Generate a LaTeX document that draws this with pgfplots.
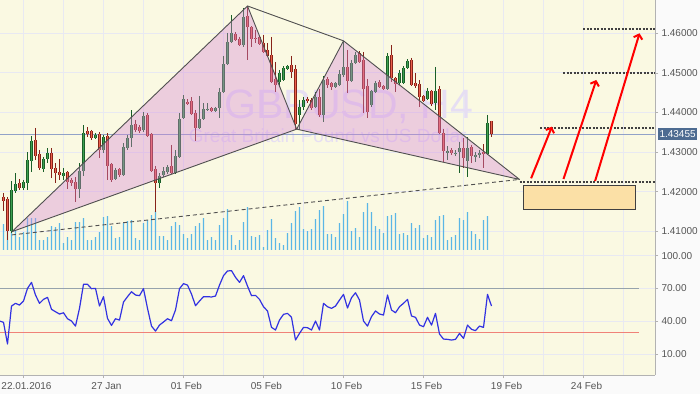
\documentclass[border=0pt]{standalone}
\usepackage{pgfplots}
\pgfplotsset{compat=1.18}
\usepackage{pgfplotstable}
\usetikzlibrary{arrows.meta}
\usepackage{fontspec}
\setmainfont{Liberation Sans}
\definecolor{pagebg}{RGB}{250,250,250}
\definecolor{bgcream}{RGB}{250,249,226}
\definecolor{gridcol}{RGB}{232,233,242}
\definecolor{labgray}{RGB}{85,85,85}
\definecolor{framegray}{RGB}{178,178,178}
\definecolor{bullfill}{RGB}{60,160,80}
\definecolor{bullline}{RGB}{25,95,40}
\definecolor{bearfill}{RGB}{236,96,76}
\definecolor{bearline}{RGB}{135,35,25}
\definecolor{volblue}{RGB}{90,182,230}
\definecolor{pinkfill}{RGB}{215,135,215}
\definecolor{patline}{RGB}{80,80,80}
\definecolor{pricebox}{RGB}{77,107,145}
\definecolor{priceline}{RGB}{145,162,200}
\definecolor{rsiblue}{RGB}{50,50,225}
\definecolor{lvlhi}{RGB}{150,163,172}
\definecolor{lvllo}{RGB}{240,130,120}
\definecolor{wmark}{RGB}{230,222,243}
\definecolor{boxfill}{RGB}{251,224,166}

\pgfplotstableread{
n o h l c
0 1.4187 1.4197 1.4151 1.4177
1 1.4182 1.4187 1.4078 1.4101
2 1.4101 1.4227 1.4096 1.4204
3 1.4202 1.4247 1.4197 1.4219
4 1.4222 1.4232 1.4204 1.4209
5 1.4209 1.4230 1.4204 1.4224
6 1.4222 1.4300 1.4204 1.4280
7 1.4278 1.4341 1.4250 1.4328
8 1.4331 1.4361 1.4280 1.4290
9 1.4295 1.4305 1.4255 1.4260
10 1.4257 1.4288 1.4250 1.4283
11 1.4283 1.4310 1.4272 1.4298
12 1.4298 1.4310 1.4235 1.4257
13 1.4260 1.4272 1.4222 1.4247
14 1.4250 1.4283 1.4230 1.4242
15 1.4240 1.4260 1.4230 1.4247
16 1.4250 1.4252 1.4207 1.4224
17 1.4230 1.4235 1.4214 1.4222
18 1.4224 1.4237 1.4174 1.4207
19 1.4207 1.4272 1.4184 1.4252
20 1.4252 1.4368 1.4240 1.4348
21 1.4353 1.4363 1.4338 1.4346
22 1.4353 1.4356 1.4331 1.4336
23 1.4336 1.4348 1.4333 1.4343
24 1.4346 1.4351 1.4285 1.4305
25 1.4305 1.4343 1.4298 1.4338
26 1.4341 1.4348 1.4230 1.4265
27 1.4270 1.4272 1.4225 1.4230
28 1.4232 1.4260 1.4230 1.4255
29 1.4257 1.4260 1.4237 1.4242
30 1.4242 1.4323 1.4240 1.4313
31 1.4310 1.4343 1.4305 1.4336
32 1.4336 1.4406 1.4313 1.4368
33 1.4371 1.4381 1.4351 1.4356
34 1.4363 1.4368 1.4348 1.4353
35 1.4356 1.4401 1.4351 1.4391
36 1.4394 1.4399 1.4338 1.4341
37 1.4346 1.4348 1.4250 1.4252
38 1.4257 1.4265 1.4149 1.4222
39 1.4222 1.4247 1.4209 1.4240
40 1.4242 1.4262 1.4237 1.4252
41 1.4250 1.4267 1.4245 1.4262
42 1.4265 1.4318 1.4245 1.4247
43 1.4247 1.4305 1.4245 1.4290
44 1.4288 1.4399 1.4285 1.4384
45 1.4386 1.4444 1.4384 1.4434
46 1.4427 1.4434 1.4419 1.4421
47 1.4429 1.4439 1.4394 1.4396
48 1.4399 1.4406 1.4328 1.4361
49 1.4361 1.4442 1.4358 1.4384
50 1.4384 1.4424 1.4381 1.4409
51 1.4406 1.4424 1.4404 1.4409
52 1.4411 1.4414 1.4401 1.4404
53 1.4404 1.4414 1.4401 1.4411
54 1.4411 1.4462 1.4386 1.4452
55 1.4452 1.4543 1.4449 1.4522
56 1.4522 1.4601 1.4520 1.4578
57 1.4578 1.4646 1.4576 1.4601
58 1.4598 1.4603 1.4581 1.4583
59 1.4586 1.4591 1.4568 1.4570
60 1.4570 1.4664 1.4565 1.4641
61 1.4644 1.4669 1.4533 1.4616
62 1.4616 1.4618 1.4565 1.4586
63 1.4588 1.4608 1.4576 1.4586
64 1.4591 1.4593 1.4570 1.4573
65 1.4576 1.4596 1.4550 1.4553
66 1.4558 1.4576 1.4540 1.4543
67 1.4545 1.4591 1.4474 1.4477
68 1.4485 1.4528 1.4452 1.4469
69 1.4477 1.4507 1.4464 1.4500
70 1.4482 1.4517 1.4480 1.4512
71 1.4510 1.4520 1.4507 1.4517
72 1.4520 1.4543 1.4487 1.4502
73 1.4510 1.4520 1.4358 1.4371
74 1.4394 1.4432 1.4356 1.4414
75 1.4414 1.4439 1.4406 1.4432
76 1.4434 1.4439 1.4424 1.4429
77 1.4432 1.4437 1.4406 1.4411
78 1.4414 1.4452 1.4411 1.4439
79 1.4439 1.4459 1.4389 1.4394
80 1.4394 1.4492 1.4376 1.4482
81 1.4485 1.4490 1.4462 1.4469
82 1.4474 1.4477 1.4457 1.4464
83 1.4464 1.4477 1.4462 1.4474
84 1.4469 1.4507 1.4467 1.4497
85 1.4495 1.4581 1.4490 1.4515
86 1.4515 1.4558 1.4449 1.4480
87 1.4480 1.4533 1.4477 1.4525
88 1.4525 1.4553 1.4522 1.4545
89 1.4550 1.4555 1.4525 1.4528
90 1.4533 1.4553 1.4399 1.4459
91 1.4467 1.4485 1.4386 1.4401
92 1.4419 1.4457 1.4414 1.4454
93 1.4452 1.4480 1.4449 1.4474
94 1.4477 1.4482 1.4462 1.4464
95 1.4467 1.4469 1.4457 1.4459
96 1.4459 1.4550 1.4457 1.4543
97 1.4545 1.4570 1.4477 1.4487
98 1.4487 1.4490 1.4452 1.4472
99 1.4474 1.4507 1.4469 1.4500
100 1.4474 1.4517 1.4472 1.4512
101 1.4512 1.4535 1.4510 1.4530
102 1.4533 1.4538 1.4467 1.4469
103 1.4474 1.4500 1.4462 1.4467
104 1.4472 1.4482 1.4414 1.4439
105 1.4442 1.4444 1.4427 1.4429
106 1.4434 1.4462 1.4432 1.4454
107 1.4454 1.4457 1.4416 1.4421
108 1.4424 1.4515 1.4406 1.4454
109 1.4459 1.4467 1.4346 1.4348
110 1.4348 1.4358 1.4275 1.4303
111 1.4298 1.4315 1.4280 1.4303
112 1.4305 1.4310 1.4293 1.4298
113 1.4295 1.4305 1.4290 1.4298
114 1.4300 1.4326 1.4247 1.4310
115 1.4310 1.4336 1.4260 1.4285
116 1.4278 1.4338 1.4237 1.4310
117 1.4313 1.4318 1.4272 1.4290
118 1.4288 1.4300 1.4275 1.4293
119 1.4293 1.4305 1.4285 1.4298
120 1.4300 1.4320 1.4260 1.4295
121 1.4295 1.4394 1.4293 1.4373
122 1.4379 1.4379 1.4338 1.43455
}\candles

\pgfplotstableread{
n v
0 2600
1 2300
2 1800
3 2000
4 1300
5 1800
6 3200
7 3200
8 3200
9 1000
10 1000
11 1300
12 2400
13 2300
14 2700
15 700
16 1300
17 1000
18 2800
19 2800
20 3200
21 1000
22 1000
23 1300
24 1800
25 3300
26 3400
27 2400
28 1200
29 1300
30 2700
31 2900
32 3000
33 1200
34 1000
35 2700
36 3000
37 3500
38 3900
39 1400
40 1400
41 1000
42 2400
43 2800
44 2500
45 1600
46 1200
47 1600
48 2400
49 2700
50 3200
51 1000
52 1300
53 1000
54 2500
55 3200
56 4100
57 1500
58 500
59 1000
60 2800
61 4300
62 1400
63 1300
64 1500
65 300
66 2000
67 3100
68 1200
69 700
70 500
71 1700
72 2700
73 3900
74 4300
75 2100
76 1900
77 2100
78 3100
79 4000
80 4400
81 1600
82 1600
83 1300
84 2700
85 3600
86 4900
87 1900
88 2200
89 1300
90 3800
91 4700
92 3800
93 2400
94 2100
95 1700
96 3400
97 3500
98 3700
99 1600
100 1700
101 1500
102 2700
103 2200
104 2500
105 1200
106 1500
107 1300
108 3000
109 3400
110 3500
111 1000
112 1300
113 1500
114 3200
115 3000
116 3800
117 1900
118 1600
119 1100
120 3000
121 3400
}\volume

\pgfplotstableread{
n r
-1 40.2
0 39.0
1 19.2
2 53.9
3 56.4
4 54.8
5 58.5
6 70.1
7 75.6
8 64.0
9 56.4
10 60.0
11 61.9
12 50.9
13 48.7
14 46.6
15 47.8
16 42.3
17 40.2
18 35.6
19 51.8
20 73.8
21 73.8
22 69.8
23 70.1
24 53.9
25 62.5
26 42.6
27 36.2
28 42.3
29 41.1
30 57.6
31 62.5
32 67.0
33 64.0
34 63.4
35 69.8
36 51.8
37 35.6
38 31.0
39 36.5
40 39.3
41 42.3
42 40.5
43 50.3
44 69.8
45 74.4
46 73.1
47 64.9
48 54.2
49 58.5
50 62.5
51 62.5
52 62.2
53 63.1
54 73.1
55 81.7
56 86.0
57 86.3
58 80.2
59 75.6
60 81.7
61 72.2
62 63.4
63 63.7
64 60.0
65 53.3
66 49.4
67 34.4
68 32.0
69 41.1
70 46.3
71 47.2
72 43.6
73 22.8
74 28.9
75 34.4
76 34.1
77 32.0
78 40.2
79 32.0
80 56.4
81 53.3
82 51.8
83 53.9
84 59.4
85 64.6
86 52.1
87 61.5
88 66.1
89 59.4
90 40.2
91 35.6
92 44.2
93 49.4
94 46.6
95 45.7
96 64.0
97 50.3
98 47.8
99 53.3
100 56.4
101 60.0
102 44.8
103 43.6
104 36.5
105 35.0
106 43.6
107 36.5
108 47.2
109 28.3
110 23.7
111 23.4
112 22.8
113 23.4
114 28.9
115 24.3
116 36.5
117 32.6
118 31.4
119 35.6
120 34.4
121 64.6
122 53.9
}\rsi

\pgfplotsset{chartx/.style={scale only axis, width=655pt, xmin=-0.875, xmax=162.875},
  candle/.style n args={2}{draw=none, mark=none, forget plot,
    error bars/.cd, y dir=minus, y explicit, error mark=none,
    error bar style={draw=#1, line width=#2}}}

\begin{document}
\begin{tikzpicture}
\fill[pagebg] (0pt,0pt) rectangle (700pt,-394pt);
\path[use as bounding box] (0pt,0pt) rectangle (700pt,-394pt);

% ---- price panel background, grid, watermark
\begin{axis}[chartx, height=250pt, at={(0pt,0pt)}, anchor=north west,
  ymin=1.40528, ymax=1.46841,
  axis background/.style={fill=bgcream},
  xtick={5,15,...,155}, ytick={1.41,1.42,1.43,1.44,1.45,1.46},
  xticklabels={}, yticklabels={}, major tick length=0pt,
  grid=major, grid style={gridcol, line width=1pt},
  axis line style={draw=none}]
\node[font=\fontsize{41}{45}\selectfont, text=wmark, anchor=base] at (axis cs:86.3,1.43861) {GBPUSD, H4};
\node[font=\fontsize{19}{22}\selectfont, text=wmark, anchor=base] at (axis cs:81.05,1.43255) {Great Britain Pound vs US Dollar};
\draw[priceline, line width=1pt] (axis cs:-0.875,1.43455) -- (axis cs:162.875,1.43455);
\end{axis}

% ---- volume
\begin{axis}[chartx, height=250pt, at={(0pt,0pt)}, anchor=north west,
  ymin=0, ymax=25000, hide axis]
\addplot[ybar, bar width=1.25pt, fill=volblue, draw=none, bar shift=0pt] table[x=n, y=v] {\volume};
\end{axis}

% ---- candles and pattern
\begin{axis}[chartx, height=250pt, at={(0pt,0pt)}, anchor=north west,
  ymin=1.40528, ymax=1.46841, clip=false,
  axis x line*=bottom, axis y line*=right,
  axis line style={framegray, line width=1pt},
  xtick=\empty,
  ytick={1.41,1.42,1.43,1.44,1.45,1.46},
  yticklabels={1.41000,1.42000,1.43000,1.44000,1.45000,1.46000},
  tick align=outside, major tick length=3pt,
  tick style={framegray, line width=0.8pt},
  yticklabel style={font=\fontsize{10}{12}\selectfont, text=labgray, anchor=west}]
% wicks
\addplot[restrict expr to domain={\thisrow{c}-\thisrow{o}}{0:1}, candle={bullline}{1pt}]
  table[x=n, y=h, y error minus expr=\thisrow{h}-\thisrow{l}] {\candles};
\addplot[restrict expr to domain={\thisrow{c}-\thisrow{o}}{-1:-0.000001}, candle={bearline}{1pt}]
  table[x=n, y=h, y error minus expr=\thisrow{h}-\thisrow{l}] {\candles};
% bodies outline
\addplot[restrict expr to domain={\thisrow{c}-\thisrow{o}}{0:1}, candle={bullline}{3.4pt}]
  table[x=n, y=c, y error minus expr=\thisrow{c}-\thisrow{o}] {\candles};
\addplot[restrict expr to domain={\thisrow{c}-\thisrow{o}}{-1:-0.000001}, candle={bearline}{3.4pt}]
  table[x=n, y=o, y error minus expr=\thisrow{o}-\thisrow{c}] {\candles};
% bodies fill
\addplot[restrict expr to domain={\thisrow{c}-\thisrow{o}}{0:1}, candle={bullfill}{1.8pt}]
  table[x=n, y=c, y error minus expr=\thisrow{c}-\thisrow{o}] {\candles};
\addplot[restrict expr to domain={\thisrow{c}-\thisrow{o}}{-1:-0.000001}, candle={bearfill}{1.8pt}]
  table[x=n, y=o, y error minus expr=\thisrow{o}-\thisrow{c}] {\candles};
% harmonic pattern
\fill[pinkfill, opacity=0.38] (axis cs:2.1,1.4099) -- (axis cs:61,1.4669) -- (axis cs:73.3,1.4358) -- cycle;
\fill[pinkfill, opacity=0.38] (axis cs:73.3,1.4358) -- (axis cs:85,1.4581) -- (axis cs:129,1.4231) -- cycle;
\draw[patline, line width=0.9pt, line join=round] (axis cs:2.1,1.4099) -- (axis cs:61,1.4669) -- (axis cs:73.3,1.4358) -- cycle;
\draw[patline, line width=0.9pt, line join=round] (axis cs:73.3,1.4358) -- (axis cs:85,1.4581) -- (axis cs:129,1.4231) -- cycle;
\draw[patline, line width=0.9pt] (axis cs:61,1.4669) -- (axis cs:85,1.4581);
\draw[patline, line width=0.9pt, dash pattern=on 4pt off 3pt] (axis cs:2.1,1.4091) -- (axis cs:129,1.4231);
% targets
\draw[black!75, line width=2pt, dash pattern=on 2pt off 1.5pt] (axis cs:129,1.42253) -- (axis cs:162.875,1.42253);
\draw[black!75, line width=2pt, dash pattern=on 2pt off 1.5pt] (axis cs:134.2,1.43616) -- (axis cs:162.875,1.43616);
\draw[black!75, line width=2pt, dash pattern=on 2pt off 1.5pt] (axis cs:139.9,1.44998) -- (axis cs:162.875,1.44998);
\draw[black!75, line width=2pt, dash pattern=on 2pt off 1.5pt] (axis cs:144.9,1.46101) -- (axis cs:162.875,1.46101);
\draw[fill=boxfill, draw=black!75, line width=1pt] (axis cs:130,1.42152) rectangle (axis cs:158.1,1.41556);
\draw[red, line width=2pt, -{Straight Barb[length=4pt,width=9pt]}] (axis cs:131.9,1.42338) -- (axis cs:137.1,1.43642);
\draw[red, line width=2pt, -{Straight Barb[length=4pt,width=9pt]}] (axis cs:140,1.42321) -- (axis cs:148.2,1.44821);
\draw[red, line width=2pt, -{Straight Barb[length=4pt,width=9pt]}] (axis cs:147.9,1.42270) -- (axis cs:159,1.46000);
% current price label
\node[fill=pricebox, text=white, anchor=west, inner xsep=1.8pt, inner ysep=2.6pt,
  font=\fontsize{10}{12}\selectfont, xshift=2.5pt] at (axis cs:162.875,1.43455) {1.43455};
\end{axis}

% ---- RSI panel
\begin{axis}[chartx, height=125pt, at={(0pt,-250pt)}, anchor=north west,
  ymin=-9.2, ymax=105.2,
  axis background/.style={fill=bgcream},
  axis x line*=bottom, axis y line*=right,
  axis line style={framegray, line width=1pt},
  xtick={5,25,...,145},
  xticklabels={22.01.2016,27 Jan,01 Feb,05 Feb,10 Feb,15 Feb,19 Feb,24 Feb},
  minor xtick={15,35,...,155},
  ytick={10,40,70,100}, yticklabels={10.00,40.00,70.00,100.00},
  grid=both, grid style={gridcol, line width=1pt}, minor grid style={gridcol, line width=1pt},
  tick align=outside, major tick length=3pt, minor tick length=0pt,
  tick style={framegray, line width=0.8pt},
  xticklabel style={font=\fontsize{10}{12}\selectfont, text=labgray, anchor=base, yshift=-11.5pt, xshift=3pt},
  yticklabel style={font=\fontsize{10}{12}\selectfont, text=labgray, anchor=west}]
\draw[lvlhi, line width=1pt] (axis cs:-0.875,70) -- (axis cs:158.9,70);
\draw[lvllo, line width=1pt] (axis cs:-0.875,30) -- (axis cs:158.9,30);
\addplot[rsiblue, line width=1.2pt, line join=round] table[x=n, y=r] {\rsi};
\end{axis}
\end{tikzpicture}
\end{document}
